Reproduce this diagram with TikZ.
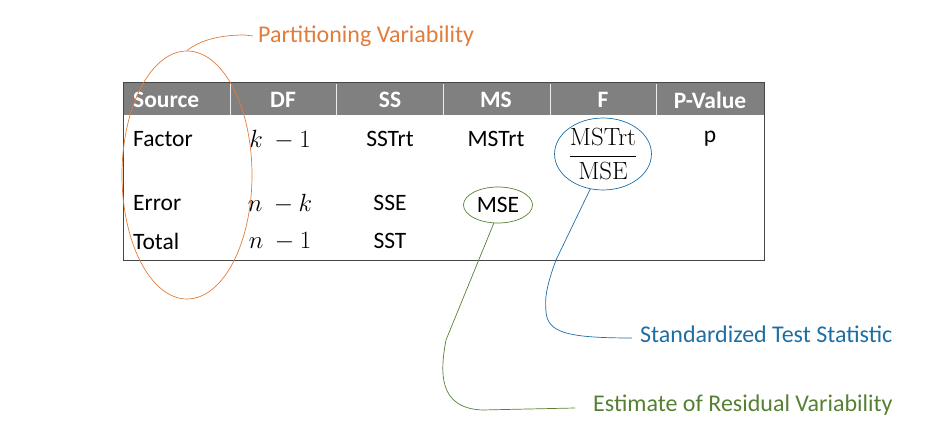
\documentclass[tikz,border=0pt]{standalone}
\usepackage{amsmath}
\usepackage[no-math]{fontspec}
\setmainfont{Carlito}
\usetikzlibrary{shapes.geometric}
\definecolor{partorange}{RGB}{226,124,58}
\definecolor{testblue}{RGB}{31,110,162}
\definecolor{residgreen}{RGB}{86,128,52}
\definecolor{headgray}{RGB}{128,128,128}
\definecolor{rulegray}{RGB}{70,70,70}
\tikzset{every picture/.append style={x=1pt, y=-1pt}}
\tikzset{
    cell/.style={inner sep=0pt, font=\fontsize{23.5}{26}\selectfont},
    head/.style={cell, text=white, font=\fontsize{23.5}{26}\selectfont\bfseries},
    mth/.style={cell, font=\fontsize{26.5}{28}\selectfont},
    ring/.style={ellipse, draw, line width=.7pt, inner sep=0pt},
    callout/.style={inner sep=0pt, anchor=west, font=\fontsize{24}{26}\selectfont}
}

\begin{document}
\begin{tikzpicture}
  \useasboundingbox (0,0) rectangle (951,425);

  % table
  \fill[headgray] (123,83) rectangle (764,115);
  \foreach \x in {230,336,443,550,656}
    \draw[white!85!headgray, line width=1pt] (\x,84) -- (\x,115);
  \draw[rulegray, line width=1pt] (123,83) rectangle (764,260);

  \node (hsrc) [head, anchor=west] at (133,100) {Source};
  \node (hdf) [head] at (283,100) {DF};
  \node (hss) [head] at (390,100) {SS};
  \node (hms) [head] at (496,100) {MS};
  \node (hf) [head] at (603,100) {F};
  \node (hp) [head] at (710,100) {P-Value};

  \node (factor) [cell, anchor=west] at (133,139) {Factor};
  \node (error) [cell, anchor=west] at (133,203) {Error};
  \node (total) [cell, anchor=west] at (133,241) {Total};

  \node (dffac) [mth] at (280,140) {$k\ -1$};
  \node (dferr) [mth] at (280,204) {$n\ -k$};
  \node (dftot) [mth] at (280,242) {$n\ -1$};

  \node (sstrt) [cell] at (390,139) {SSTrt};
  \node (sse) [cell] at (390,203) {SSE};
  \node (sst) [cell] at (390,241) {SST};

  \node (mstrt) [cell] at (496,139) {MSTrt};
  \node (mse) [cell, ring, draw=residgreen, minimum width=69pt, minimum height=36pt]
    at (498,205) {MSE};

  \node (fstat) [mth, ring, draw=testblue, minimum width=96pt, minimum height=65pt]
    at (603,154) {$\dfrac{\mathrm{MSTrt}}{\mathrm{MSE}}$};
  \node (pval) [cell] at (710,139) {p};

  % callouts
  \node (part) [ring, draw=partorange, minimum width=130pt, minimum height=248pt]
    at (187,175) {};
  \node (lblpart) [callout, text=partorange] at (258,36) {Partitioning Variability};
  \node (lbltest) [callout, text=testblue] at (640,334) {Standardized Test Statistic};
  \node (lblresid) [callout, text=residgreen] at (593,405) {Estimate of Residual Variability};

  \draw[partorange, line width=.7pt] (part.north) .. controls (200,40) and (220,35) .. (245,35)
    -- ([xshift=-5pt]lblpart.west);
  \draw[testblue, line width=.7pt] (fstat.250) -- (556,260)
    .. controls (545,290) and (545,300) .. (546,312)
    .. controls (548,332) and (565,338) .. (632,338);
  \draw[residgreen, line width=.7pt] (mse.257) -- (446,340)
    .. controls (440,372) and (438,408) .. (482,410) -- (575,408);

\end{tikzpicture}
\end{document}
